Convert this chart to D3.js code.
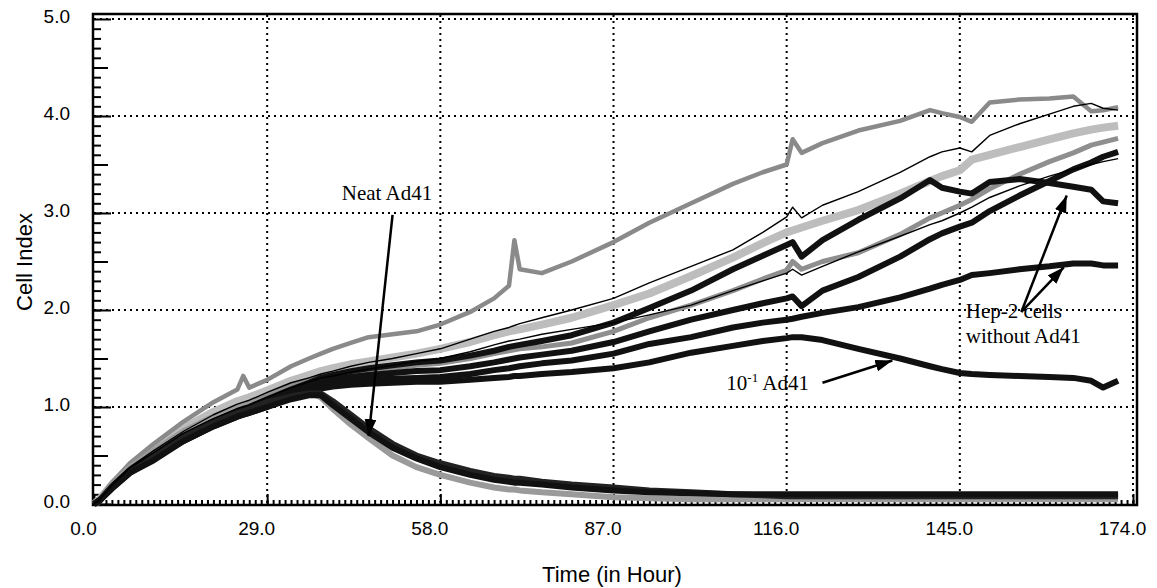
<!DOCTYPE html>
<html>
<head>
<meta charset="utf-8">
<script src="https://cdn.jsdelivr.net/npm/d3@7"></script>
<style>
  body { margin: 0; background: #fff; }
  svg { display: block; }
  .tick text { font-family: Arial, "Liberation Sans", sans-serif; font-size: 19px; fill: #000; }
  .title { font-family: Arial, "Liberation Sans", sans-serif; font-size: 22px; }
  .note { font-family: "Times New Roman", "Liberation Serif", serif; font-size: 21px; }
</style>
</head>
<body>
<svg id="chart" width="1157" height="588"></svg>
<script>
// time points (hours) shared by every series
const hours = [0, 1, 3, 6, 10, 15, 20, 24, 25, 26, 29, 33, 36, 38, 40, 43, 46, 50, 54, 58,
  63, 67, 69.5, 70.4, 71.3, 75, 80, 87, 93, 100, 107, 112, 116, 117, 118.5, 122, 128, 135, 140, 142,
  145, 147, 150, 155, 160, 164, 167, 169, 171.5];

// cell index, one array per well
const grayTop = [0, 0.05, 0.22, 0.42, 0.62, 0.85, 1.05, 1.18, 1.32, 1.2, 1.28, 1.42, 1.5, 1.55, 1.6, 1.66, 1.72, 1.75, 1.78, 1.85,
  1.98, 2.12, 2.25, 2.72, 2.42, 2.38, 2.5, 2.7, 2.9, 3.1, 3.3, 3.42, 3.5, 3.76, 3.62, 3.72, 3.85, 3.95, 4.06, 4.03,
  3.99, 3.94, 4.14, 4.17, 4.18, 4.2, 4.05, 4.06, 4.09];
const thinTop = [0, 0.05, 0.2, 0.38, 0.55, 0.75, 0.92, 1.03, 1.05, 1.07, 1.15, 1.25, 1.3, 1.34, 1.37, 1.42, 1.46, 1.5, 1.55, 1.6,
  1.7, 1.78, 1.82, 1.84, 1.86, 1.92, 2.0, 2.12, 2.28, 2.45, 2.62, 2.8, 2.96, 3.06, 2.95, 3.08, 3.22, 3.42, 3.58, 3.63,
  3.67, 3.63, 3.8, 3.92, 4.02, 4.1, 4.13, 4.08, 4.06];
const lightBand = [0, 0.05, 0.2, 0.38, 0.56, 0.78, 0.95, 1.06, 1.08, 1.1, 1.17, 1.27, 1.33, 1.37, 1.4, 1.44, 1.47, 1.51, 1.55, 1.6,
  1.67, 1.74, 1.78, 1.79, 1.8, 1.85, 1.92, 2.05, 2.17, 2.35, 2.54, 2.69, 2.8, 2.82, 2.85, 2.92, 3.03, 3.2, 3.33, 3.38,
  3.44, 3.55, 3.6, 3.68, 3.76, 3.82, 3.86, 3.88, 3.9];
const blackBump = [0, 0.04, 0.18, 0.35, 0.5, 0.7, 0.85, 0.96, 0.98, 1.0, 1.08, 1.18, 1.25, 1.3, 1.33, 1.37, 1.4, 1.43, 1.46, 1.48,
  1.53, 1.58, 1.62, 1.63, 1.64, 1.68, 1.74, 1.87, 2.02, 2.2, 2.42, 2.56, 2.67, 2.7, 2.55, 2.72, 2.93, 3.15, 3.34, 3.26,
  3.22, 3.2, 3.32, 3.35, 3.31, 3.27, 3.24, 3.12, 3.1];
const grayMid = [0, 0.05, 0.2, 0.38, 0.55, 0.75, 0.9, 1.0, 1.02, 1.04, 1.12, 1.22, 1.28, 1.31, 1.33, 1.36, 1.38, 1.4, 1.43, 1.45,
  1.5, 1.55, 1.58, 1.59, 1.6, 1.62, 1.66, 1.78, 1.92, 2.05, 2.2, 2.32, 2.41, 2.5, 2.42, 2.5, 2.59, 2.78, 2.95, 3.0,
  3.08, 3.14, 3.25, 3.4, 3.53, 3.62, 3.7, 3.73, 3.77];
const thinMid = [0, 0.05, 0.19, 0.37, 0.53, 0.73, 0.88, 0.98, 1.0, 1.02, 1.1, 1.2, 1.26, 1.3, 1.32, 1.36, 1.39, 1.43, 1.47, 1.5,
  1.57, 1.64, 1.68, 1.69, 1.7, 1.75, 1.8, 1.87, 1.95, 2.05, 2.2, 2.3, 2.38, 2.42, 2.36, 2.45, 2.6, 2.76, 2.88, 2.92,
  3.0, 3.06, 3.16, 3.28, 3.38, 3.45, 3.5, 3.53, 3.56];
const blackRise = [0, 0.04, 0.17, 0.33, 0.48, 0.68, 0.83, 0.94, 0.96, 0.98, 1.05, 1.15, 1.22, 1.26, 1.28, 1.31, 1.33, 1.35, 1.37, 1.38,
  1.42, 1.46, 1.49, 1.5, 1.51, 1.54, 1.58, 1.67, 1.78, 1.9, 2.0, 2.07, 2.12, 2.14, 2.04, 2.2, 2.34, 2.55, 2.73, 2.79,
  2.86, 2.9, 3.02, 3.18, 3.33, 3.45, 3.52, 3.58, 3.63];
const blackLow = [0, 0.04, 0.17, 0.33, 0.48, 0.67, 0.82, 0.92, 0.94, 0.96, 1.02, 1.12, 1.18, 1.21, 1.23, 1.26, 1.28, 1.29, 1.3, 1.31,
  1.34, 1.38, 1.4, 1.41, 1.42, 1.45, 1.48, 1.55, 1.65, 1.72, 1.82, 1.87, 1.9, 1.91, 1.93, 1.97, 2.03, 2.13, 2.22, 2.26,
  2.31, 2.36, 2.38, 2.42, 2.45, 2.48, 2.48, 2.46, 2.46];
const dilution = [0, 0.04, 0.16, 0.32, 0.47, 0.65, 0.8, 0.9, 0.92, 0.94, 1.0, 1.1, 1.16, 1.19, 1.21, 1.23, 1.24, 1.25, 1.26, 1.26,
  1.28, 1.3, 1.31, 1.32, 1.32, 1.34, 1.36, 1.4, 1.46, 1.56, 1.63, 1.68, 1.71, 1.72, 1.72, 1.69, 1.6, 1.5, 1.42, 1.39,
  1.35, 1.34, 1.33, 1.32, 1.31, 1.3, 1.27, 1.2, 1.27];
const neatBlack1 = [0, 0.04, 0.16, 0.32, 0.45, 0.65, 0.8, 0.9, 0.92, 0.94, 1.0, 1.08, 1.12, 1.12, 1.02, 0.88, 0.74, 0.58, 0.47, 0.38,
  0.3, 0.25, 0.23, 0.22, 0.22, 0.2, 0.17, 0.14, 0.12, 0.11, 0.1, 0.1, 0.1, 0.1, 0.1, 0.1, 0.1, 0.1, 0.1, 0.1,
  0.1, 0.1, 0.1, 0.1, 0.1, 0.1, 0.1, 0.1, 0.1];
const neatGray = [0, 0.05, 0.2, 0.38, 0.55, 0.75, 0.9, 1.0, 1.02, 1.03, 1.08, 1.13, 1.15, 1.1, 0.98, 0.82, 0.68, 0.5, 0.38, 0.3,
  0.22, 0.17, 0.15, 0.15, 0.14, 0.12, 0.1, 0.07, 0.06, 0.05, 0.05, 0.05, 0.05, 0.05, 0.05, 0.05, 0.05, 0.05, 0.05, 0.05,
  0.05, 0.05, 0.05, 0.05, 0.05, 0.05, 0.05, 0.05, 0.05];
const neatBlack2 = [0, 0.04, 0.17, 0.34, 0.5, 0.7, 0.85, 0.95, 0.97, 0.99, 1.05, 1.11, 1.14, 1.14, 1.06, 0.92, 0.78, 0.62, 0.5, 0.42,
  0.34, 0.29, 0.27, 0.26, 0.26, 0.23, 0.2, 0.17, 0.14, 0.12, 0.1, 0.09, 0.08, 0.08, 0.08, 0.08, 0.08, 0.08, 0.08, 0.08,
  0.08, 0.08, 0.08, 0.08, 0.08, 0.08, 0.08, 0.08, 0.08];

const xTicks = [0, 29, 58, 87, 116, 145, 174];
const yTicks = [0, 1, 2, 3, 4, 5];

// annotations: [text, textHour, textValue], arrows: [fromHour, fromValue, toHour, toValue]
const notes = [["Neat Ad41", 41.5, 3.13], ["Hep-2 cells", 146, 1.92], ["without Ad41", 146, 1.66]];
const arrows = [[50.0, 2.98, 46.0, 0.70], [155.3, 1.98, 162.9, 3.18], [155.3, 1.98, 162.4, 2.44], [122.0, 1.25, 133.7, 1.48]];

const svg = d3.select("#chart");
const x = d3.scaleLinear().domain([0, 174]).range([94, 1133]);
const y = d3.scaleLinear().domain([0, 5]).range([504, 19]);

// frame
svg.append("rect")
  .attr("x", 93).attr("y", 14).attr("width", 1044).attr("height", 491)
  .attr("fill", "none").attr("stroke", "#000").attr("stroke-width", 2.5);

// dotted grid
svg.append("g").selectAll("line").data(xTicks.slice(1)).enter().append("line")
  .attr("x1", d => x(d)).attr("x2", d => x(d))
  .attr("y1", 15).attr("y2", 504)
  .attr("stroke", "#000").attr("stroke-width", 2).attr("stroke-dasharray", "2,4");
svg.append("g").selectAll("line").data(yTicks.slice(1)).enter().append("line")
  .attr("x1", 94).attr("x2", 1136)
  .attr("y1", d => y(d)).attr("y2", d => y(d))
  .attr("stroke", "#000").attr("stroke-width", 2).attr("stroke-dasharray", "2,4");

// y axis: major, half and tenth ticks pointing into the plot
svg.append("g").attr("transform", "translate(93,0)")
  .call(d3.axisLeft(y).tickValues(d3.range(0, 50).map(i => i / 10)).tickSize(-8).tickFormat(""))
  .call(g => g.select(".domain").remove());
svg.append("g").attr("transform", "translate(93,0)")
  .call(d3.axisLeft(y).tickValues([0.5, 1.5, 2.5, 3.5, 4.5]).tickSize(-15).tickFormat(""))
  .call(g => g.select(".domain").remove());
svg.append("g").attr("transform", "translate(93,0)")
  .call(d3.axisLeft(y).tickValues(yTicks).tickSize(-18).tickPadding(23).tickFormat(d3.format(".1f")))
  .call(g => g.select(".domain").remove())
  .call(g => g.selectAll(".tick text").attr("dy", "0.2em"));

// x axis: hourly ticks pointing up
svg.append("g").attr("transform", "translate(0,505)")
  .call(d3.axisBottom(x).tickValues(d3.range(0, 175)).tickSize(-5).tickFormat(""))
  .call(g => g.select(".domain").remove());
svg.append("g").attr("transform", "translate(0,505)")
  .call(d3.axisBottom(x).tickValues(xTicks).tickSize(-11).tickPadding(17).tickFormat(d3.format(".1f")))
  .call(g => g.select(".domain").remove())
  .call(g => g.selectAll(".tick text").attr("dx", -11));

svg.selectAll(".tick line").attr("stroke", "#000").attr("stroke-width", 2);

// titles
svg.append("text").attr("class", "title")
  .attr("x", 612).attr("y", 582).attr("text-anchor", "middle")
  .text("Time (in Hour)");
svg.append("text").attr("class", "title")
  .attr("transform", "translate(32,262) rotate(-90)").attr("text-anchor", "middle")
  .text("Cell Index");

// series
const series = [
  {v: lightBand, c: "#bdbdbd", w: 8},
  {v: grayTop, c: "#8a8a8a", w: 4.5},
  {v: grayMid, c: "#8f8f8f", w: 5},
  {v: neatGray, c: "#9a9a9a", w: 6},
  {v: blackBump, c: "#111", w: 6},
  {v: blackRise, c: "#111", w: 6},
  {v: blackLow, c: "#111", w: 6},
  {v: dilution, c: "#111", w: 6},
  {v: neatBlack2, c: "#222", w: 6},
  {v: neatBlack1, c: "#111", w: 6},
  {v: thinTop, c: "#000", w: 1.4},
  {v: thinMid, c: "#000", w: 1.4}
];

const line = d3.line()
  .x((d, i) => x(hours[i]))
  .y(d => y(d));

svg.append("g").selectAll("path").data(series).enter().append("path")
  .attr("d", d => line(d.v))
  .attr("fill", "none")
  .attr("stroke", d => d.c)
  .attr("stroke-width", d => d.w)
  .attr("stroke-linejoin", "round");

// annotations
svg.append("defs").append("marker")
  .attr("id", "head").attr("markerUnits", "userSpaceOnUse")
  .attr("markerWidth", 18).attr("markerHeight", 14)
  .attr("refX", 17).attr("refY", 6).attr("orient", "auto")
  .append("path").attr("d", "M0,0 L17,6 L0,12 Z").attr("fill", "#000");

svg.append("g").selectAll("line").data(arrows).enter().append("line")
  .attr("x1", d => x(d[0])).attr("y1", d => y(d[1]))
  .attr("x2", d => x(d[2])).attr("y2", d => y(d[3]))
  .attr("stroke", "#000").attr("stroke-width", 2.5)
  .attr("marker-end", "url(#head)");

svg.append("g").selectAll("text").data(notes).enter().append("text")
  .attr("class", "note")
  .attr("x", d => x(d[1])).attr("y", d => y(d[2]))
  .text(d => d[0]);

const dil = svg.append("text").attr("class", "note")
  .attr("x", x(105.9)).attr("y", y(1.18));
dil.append("tspan").text("10");
dil.append("tspan").attr("dy", -8).attr("font-size", 13).text("-1");
dil.append("tspan").attr("dy", 8).text(" Ad41");
</script>
</body>
</html>
